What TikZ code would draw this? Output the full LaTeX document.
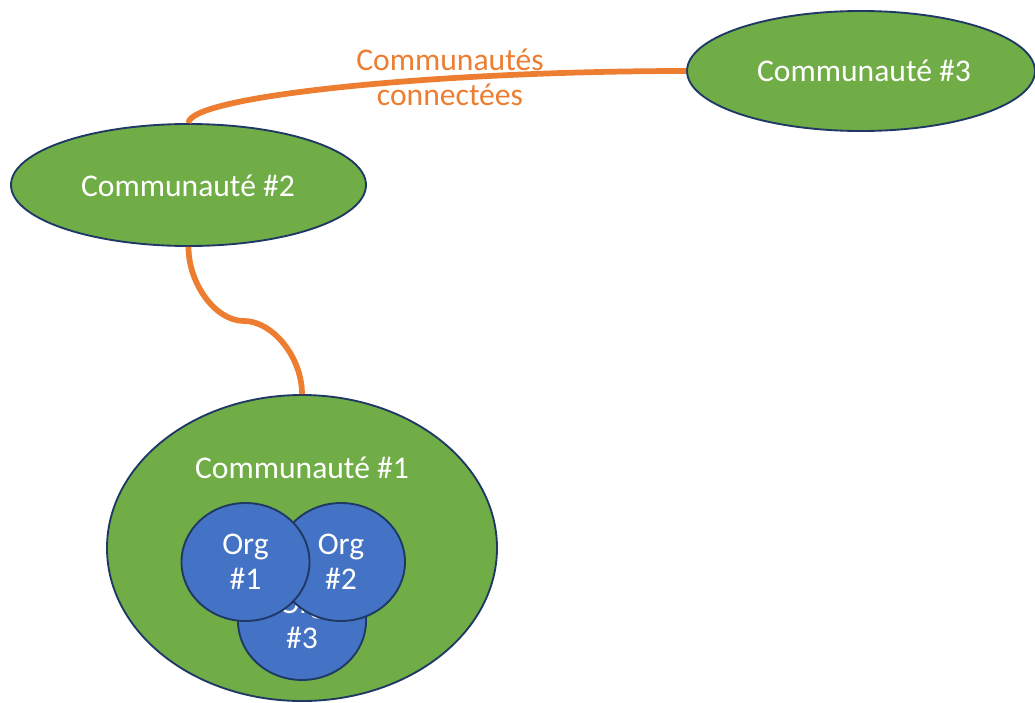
\documentclass[tikz,border=0pt]{standalone}
\usepackage{fontspec}
\setmainfont{Carlito}
\usetikzlibrary{shapes.geometric}
\definecolor{commgreen}{HTML}{70AD47}
\definecolor{orgblue}{HTML}{4472C4}
\definecolor{outline}{HTML}{1F3864}
\definecolor{linkorange}{HTML}{ED7D31}
\begin{document}
\begin{tikzpicture}[x=0.75pt,y=-0.75pt,
  every node/.style={font=\fontsize{23.7}{26.3}\selectfont},
  community/.style={ellipse, draw=outline, line width=1.4pt, fill=commgreen,
    text=white, inner sep=0pt},
  org/.style={ellipse, draw=outline, line width=1.4pt, fill=orgblue,
    text=white, inner sep=0pt, align=center,
    minimum width=128*0.75pt, minimum height=118*0.75pt},
  link/.style={draw=linkorange, line width=4.3pt}]
\useasboundingbox (0,0) rectangle (1035,703);

% communities
\node[community, minimum width=348*0.75pt, minimum height=120*0.75pt] (c3) at (861,71) {};
\node at (864,71) {\color{white}Communauté \#3};
\node[community, minimum width=355*0.75pt, minimum height=122*0.75pt] (c2) at (188.5,185) {};
\node at (188,186) {\color{white}Communauté \#2};
\node[community, minimum width=390*0.75pt, minimum height=306*0.75pt] (c1) at (302,548) {};
\node at (302,468) {\color{white}Communauté \#1};

% organisations inside community 1
\node[org] (o3) at (302,621) {Org\\\#3};
\node[org] (o2) at (341,562) {Org\\\#2};
\node[org] (o1) at (245.5,562) {Org\\\#1};

% links between communities
\draw[link] (c2.north) .. controls +(0,-27) and +(-250,0) .. (c3.west);
\draw[link] (c2.south) .. controls +(0,37) and +(-28.5,0) .. (244,321)
  .. controls +(28.5,0) and +(0,-37) .. (c1.north);

\node[text=linkorange, align=center] (lbl) at (450,77) {Communautés\\connectées};
\end{tikzpicture}
\end{document}
